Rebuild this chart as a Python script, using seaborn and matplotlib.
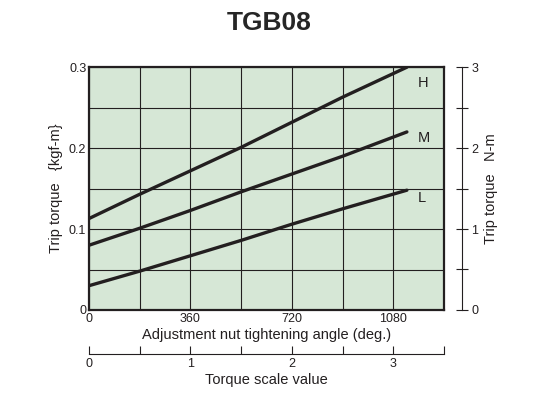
import matplotlib
matplotlib.use("Agg")
import matplotlib.pyplot as plt
import numpy as np
import pandas as pd
import seaborn as sns

angles = [0, 180, 360, 540, 720, 900, 1128]
torque_h = [0.113, 0.143, 0.172, 0.201, 0.232, 0.263, 0.300]
torque_m = [0.080, 0.101, 0.123, 0.146, 0.168, 0.190, 0.220]
torque_l = [0.030, 0.048, 0.067, 0.086, 0.106, 0.125, 0.148]
curve_names = ["H", "M", "L"]

sns.set_style("white")
plt.rcParams["font.family"] = ["Liberation Sans", "DejaVu Sans"]

df = pd.DataFrame({
    "angle": angles * 3,
    "torque": torque_h + torque_m + torque_l,
    "curve": sum([[n] * len(angles) for n in curve_names], []),
})

fig = plt.figure(figsize=(5.6, 4.2), dpi=100)
ax = fig.add_axes([0.159, 0.262, 0.634, 0.578])
ax.set_facecolor("#d6e7d6")
ink = "#231f20"

sns.lineplot(data=df, x="angle", y="torque", units="curve", estimator=None,
             color=ink, linewidth=2.4, ax=ax)

ax.set_xlim(0, 1260)
ax.set_ylim(0, 0.3)
ax.set_xticks(np.arange(0, 1261, 180))
ax.set_xticklabels(["0", "", "360", "", "720", "", "1080", ""])
ax.set_yticks(np.arange(0, 0.301, 0.05))
ax.set_yticklabels(["0", "", "0.1", "", "0.2", "", "0.3"])
ax.grid(True, color=ink, linewidth=0.8)
ax.tick_params(length=0, labelsize=9, colors=ink, pad=2)
for s in ax.spines.values():
    s.set_linewidth(1.6)
    s.set_color(ink)
ax.set_xlabel("Adjustment nut tightening angle (deg.)", fontsize=10.5, color=ink, labelpad=2)
ax.set_ylabel("Trip torque   {kgf-m}", fontsize=10.5, color=ink, labelpad=4)

label_y = [0.276, 0.208, 0.134]
for name, ly in zip(curve_names, label_y):
    ax.text(1165, ly, name, fontsize=10.5, color=ink)

ax2 = ax.twinx()
ax2.set_ylim(0, 2.94)
ax2.set_yticks(np.arange(0, 3.01, 0.5))
ax2.set_yticklabels(["0", "", "1", "", "2", "", "3"])
ax2.spines["right"].set_position(("outward", 13))
for k in ["top", "left", "bottom"]:
    ax2.spines[k].set_visible(False)
ax2.spines["right"].set_color(ink)
ax2.tick_params(right=True, direction="inout", length=9, labelsize=9, colors=ink, pad=2)
ax2.set_ylabel("Trip torque   N-m", fontsize=10.5, color=ink, labelpad=4)

ax3 = fig.add_axes([0.159, 0.157, 0.634, 0.001])
ax3.set_xlim(0, 3.5)
ax3.set_xticks(np.arange(0, 3.51, 0.5))
ax3.set_xticklabels(["0", "", "1", "", "2", "", "3", ""])
ax3.set_yticks([])
for k in ["top", "left", "right"]:
    ax3.spines[k].set_visible(False)
ax3.spines["bottom"].set_color(ink)
ax3.tick_params(axis="x", bottom=True, direction="in", length=6, labelsize=9, colors=ink, pad=3)
ax3.patch.set_visible(False)
ax3.set_xlabel("Torque scale value", fontsize=10.5, color=ink, labelpad=2)

fig.suptitle("TGB08", fontsize=19, fontweight="bold", y=0.975, x=0.48)
fig.savefig("out.png", dpi=100)
